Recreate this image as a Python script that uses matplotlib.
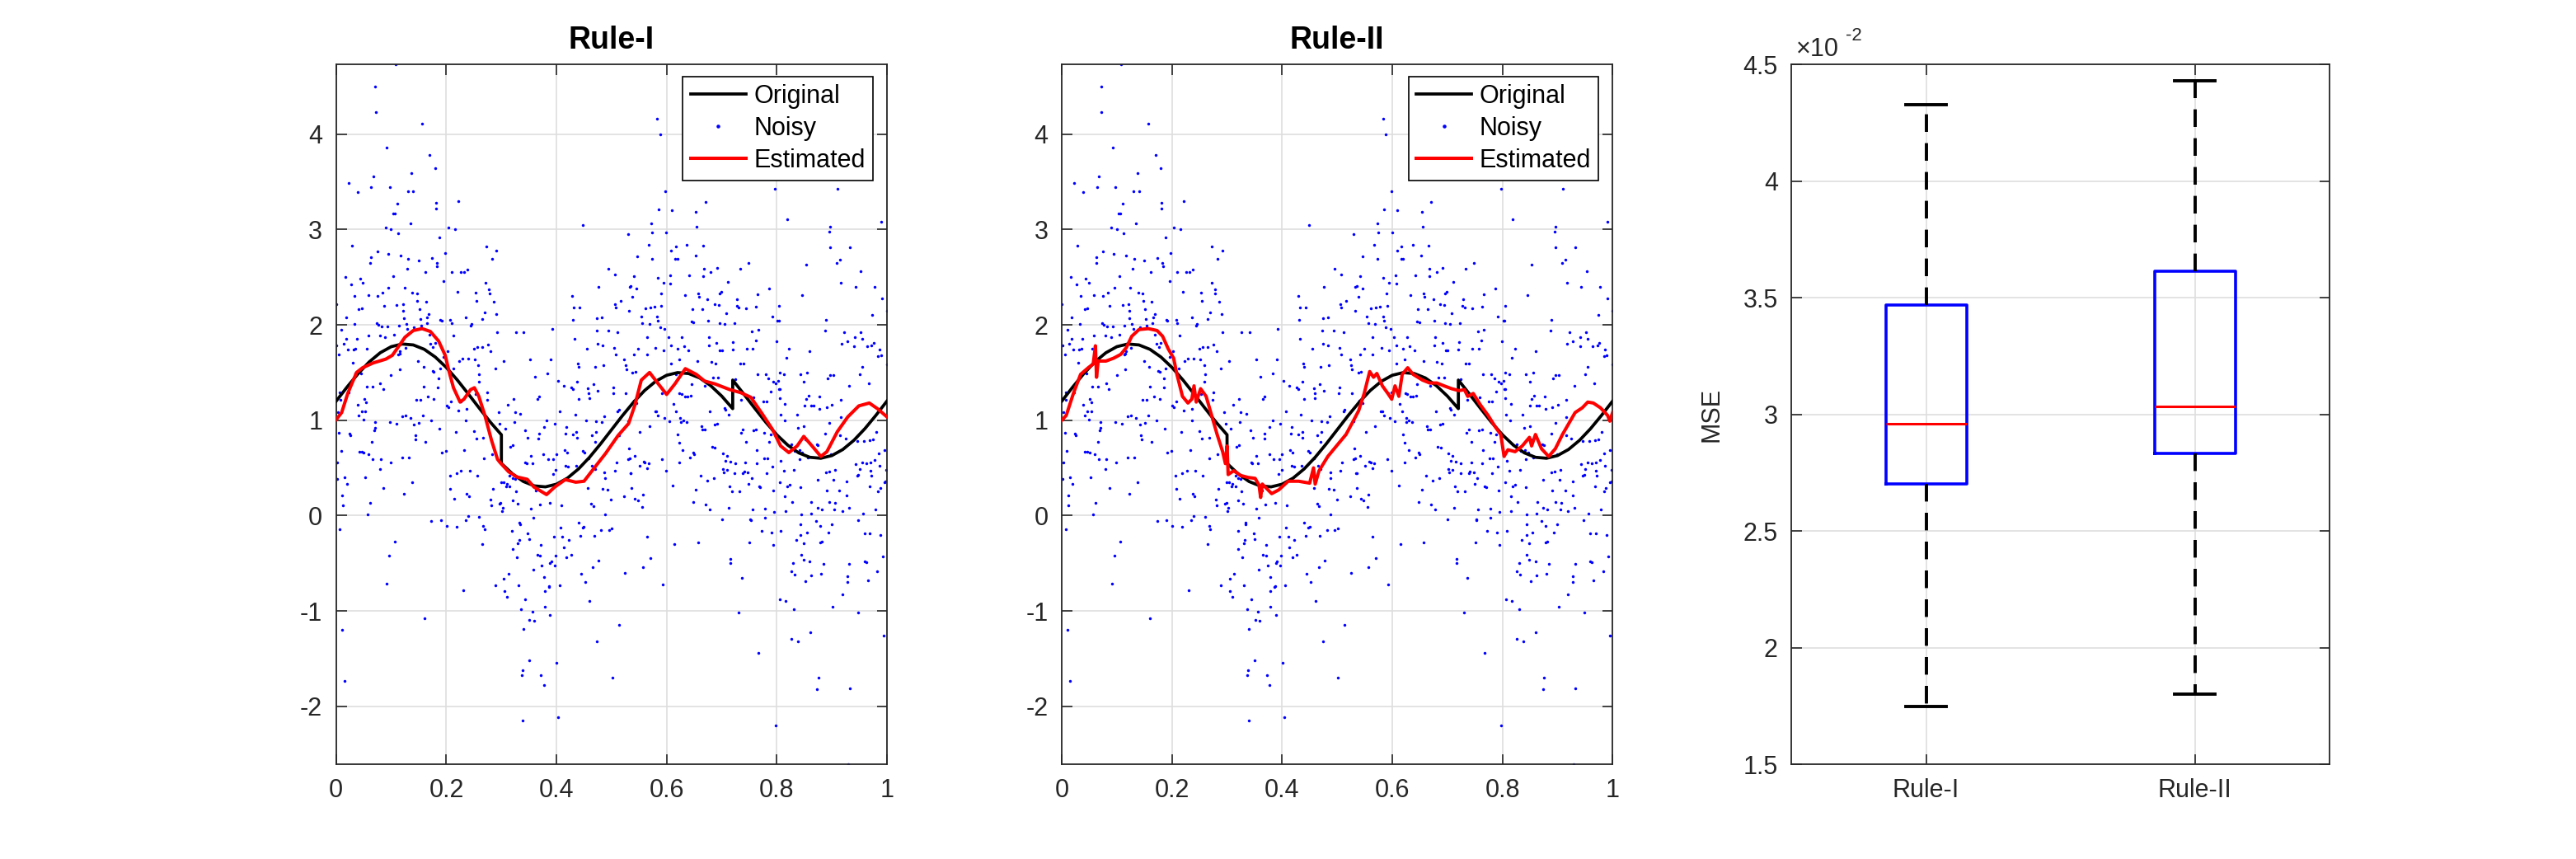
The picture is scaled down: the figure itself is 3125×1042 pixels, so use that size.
import numpy as np
import matplotlib
matplotlib.use("Agg")
import matplotlib.pyplot as plt
from matplotlib.ticker import FixedLocator, FuncFormatter

plt.rcParams['font.family'] = ['Liberation Sans', 'DejaVu Sans']
plt.rcParams['axes.unicode_minus'] = False

# ---------------- data ----------------
orig_x = [0.00, 0.02, 0.04, 0.06, 0.08, 0.10, 0.12, 0.14, 0.16, 0.18, 0.20, 0.22, 0.24, 0.26, 0.28, 0.30,
          0.30, 0.32, 0.34, 0.36, 0.38, 0.40, 0.42, 0.44, 0.46, 0.48, 0.50, 0.52, 0.54, 0.56, 0.58, 0.60,
          0.62, 0.64, 0.66, 0.68, 0.70, 0.72,
          0.72, 0.74, 0.76, 0.78, 0.80, 0.82, 0.84, 0.86, 0.88, 0.90, 0.92, 0.94, 0.96, 0.98, 1.00]
orig_y = [1.200, 1.349, 1.489, 1.611, 1.707, 1.771, 1.799, 1.789, 1.743, 1.662, 1.553, 1.421, 1.275, 1.125, 0.979, 0.847,
          0.547, 0.438, 0.357, 0.311, 0.301, 0.329, 0.393, 0.489, 0.611, 0.751, 0.900, 1.049, 1.189, 1.311, 1.407, 1.471,
          1.499, 1.489, 1.443, 1.362, 1.253, 1.121,
          1.421, 1.275, 1.125, 0.979, 0.847, 0.738, 0.657, 0.611, 0.601, 0.629, 0.693, 0.789, 0.911, 1.051, 1.200]

est1_x = [0.000, 0.010, 0.021, 0.037, 0.048, 0.067, 0.090, 0.102, 0.113, 0.125, 0.140, 0.156, 0.171, 0.186,
          0.198, 0.205, 0.213, 0.225, 0.232, 0.244, 0.251, 0.259, 0.270, 0.282, 0.293, 0.297, 0.313, 0.328,
          0.347, 0.359, 0.382, 0.397, 0.416, 0.435, 0.450, 0.466, 0.489, 0.512, 0.531, 0.5425, 0.554, 0.569,
          0.585, 0.600, 0.615, 0.634, 0.654, 0.669, 0.688, 0.715, 0.734, 0.753, 0.772, 0.792, 0.807, 0.822,
          0.837, 0.849, 0.864, 0.880, 0.891, 0.910, 0.929, 0.949, 0.968, 0.983, 1.000]
est1_y = [1.006, 1.080, 1.280, 1.500, 1.550, 1.600, 1.640, 1.680, 1.770, 1.870, 1.940, 1.960, 1.930, 1.830,
          1.680, 1.510, 1.340, 1.190, 1.220, 1.320, 1.340, 1.250, 1.050, 0.790, 0.590, 0.560, 0.460, 0.405,
          0.380, 0.300, 0.220, 0.300, 0.377, 0.350, 0.360, 0.480, 0.650, 0.840, 0.965, 1.160, 1.420, 1.500,
          1.380, 1.270, 1.380, 1.540, 1.480, 1.410, 1.380, 1.320, 1.290, 1.240, 1.080, 0.905, 0.730, 0.660,
          0.730, 0.830, 0.730, 0.620, 0.670, 0.880, 1.035, 1.150, 1.180, 1.120, 1.035]

est2_x = [0.000, 0.008, 0.021, 0.034, 0.048, 0.057, 0.061, 0.063, 0.066, 0.080, 0.094, 0.107, 0.117, 0.127,
          0.140, 0.157, 0.173, 0.183, 0.193, 0.203, 0.209, 0.219, 0.229, 0.236, 0.240, 0.244, 0.252, 0.262,
          0.272, 0.282, 0.292, 0.297, 0.300, 0.302, 0.312, 0.325, 0.338, 0.351, 0.358, 0.361, 0.364, 0.381,
          0.394, 0.411, 0.430, 0.450, 0.457, 0.460, 0.467, 0.483, 0.503, 0.516, 0.529, 0.539, 0.549, 0.559,
          0.566, 0.572, 0.582, 0.592, 0.599, 0.605, 0.612, 0.618, 0.628, 0.638, 0.655, 0.668, 0.681, 0.694,
          0.708, 0.721, 0.731, 0.737, 0.747, 0.760, 0.774, 0.787, 0.797, 0.803, 0.810, 0.823, 0.836, 0.849,
          0.853, 0.860, 0.871, 0.884, 0.896, 0.909, 0.923, 0.932, 0.945, 0.955, 0.965, 0.978, 0.991, 0.995, 1.000]
est2_y = [1.000, 1.050, 1.280, 1.480, 1.550, 1.590, 1.780, 1.450, 1.620, 1.620, 1.650, 1.690, 1.760, 1.880,
          1.950, 1.960, 1.940, 1.880, 1.750, 1.650, 1.480, 1.250, 1.180, 1.220, 1.360, 1.190, 1.330, 1.250,
          1.050, 0.850, 0.670, 0.545, 0.730, 0.430, 0.470, 0.420, 0.400, 0.390, 0.320, 0.190, 0.330, 0.230,
          0.270, 0.360, 0.360, 0.340, 0.500, 0.330, 0.470, 0.620, 0.760, 0.850, 0.990, 1.100, 1.280, 1.510,
          1.450, 1.490, 1.360, 1.280, 1.220, 1.360, 1.250, 1.480, 1.550, 1.480, 1.420, 1.390, 1.390, 1.360,
          1.330, 1.310, 1.320, 1.250, 1.280, 1.160, 1.050, 0.930, 0.850, 0.620, 0.690, 0.670, 0.730, 0.820,
          0.730, 0.850, 0.700, 0.620, 0.700, 0.850, 0.990, 1.080, 1.130, 1.190, 1.180, 1.130, 1.050, 0.990, 1.080]

noisy_pts = [
    # x in [0, 0.26]
    (0.1075, 4.73), (0.071, 4.50), (0.072, 4.23), (0.1565, 4.11), (0.092, 3.86), (0.170, 3.78), (0.180, 3.64),
    (0.137, 3.59), (0.0675, 3.56), (0.0225, 3.49), (0.097, 3.44), (0.0635, 3.44), (0.039, 3.39), (0.1305, 3.40),
    (0.140, 3.40), (0.222, 3.30), (0.181, 3.28), (0.111, 3.27), (0.1815, 3.22), (0.1035, 3.17), (0.1065, 3.17),
    (0.135, 3.06), (0.090, 3.02), (0.0995, 3.00), (0.204, 3.02), (0.2155, 3.00), (0.1125, 2.96), (0.188, 2.92),
    (0.0285, 2.83), (0.0745, 2.77), (0.094, 2.74), (0.1165, 2.73), (0.0625, 2.71), (0.131, 2.69), (0.1495, 2.67),
    (0.174, 2.70), (0.062, 2.65), (0.183, 2.65), (0.1835, 2.61), (0.1975, 2.75), (0.1285, 2.59), (0.1615, 2.55),
    (0.210, 2.55), (0.226, 2.55), (0.232, 2.55), (0.2385, 2.58), (0.017, 2.50), (0.104, 2.51), (0.043, 2.48),
    (0.1955, 2.46), (0.0485, 2.44), (0.027, 2.42), (0.1245, 2.39), (0.095, 2.39), (0.220, 2.35), (0.1385, 2.34),
    (0.1465, 2.33), (0.084, 2.34), (0.0335, 2.30), (0.058, 2.31), (0.075, 2.30), (0.2535, 2.34), (0.1475, 2.25),
    (0.1635, 2.24), (0.254, 2.25), (0.000, 2.22), (0.110, 2.21), (0.1215, 2.22), (0.087, 2.20), (0.041, 2.16),
    (0.046, 2.17), (0.122, 2.15), (0.1515, 2.16), (0.1685, 2.11), (0.0185, 2.08), (0.1655, 2.08), (0.1525, 2.06),
    (0.236, 2.08), (0.123, 2.07), (0.2075, 2.05), (0.1895, 2.05), (0.192, 2.04), (0.0735, 2.02), (0.210, 2.02),
    (0.0325, 2.01), (0.127, 2.01), (0.2455, 2.01), (0.0765, 2.00), (0.1135, 1.99), (0.1645, 2.02), (0.2435, 1.99),
    (0.082, 1.98), (0.093, 1.98), (0.010, 1.95), (0.1415, 1.97), (0.1295, 1.96), (0.1545, 1.99), (0.2135, 1.89),
    (0.0585, 1.89), (0.079, 1.89), (0.089, 1.87), (0.1045, 1.90), (0.1695, 1.90), (0.0185, 1.85), (0.037, 1.85),
    (0.0135, 1.80), (0.1715, 1.80), (0.176, 1.77), (0.001, 1.78), (0.0215, 1.74), (0.0315, 1.74), (0.035, 1.75),
    (0.055, 1.75), (0.1255, 1.76), (0.256, 1.77), (0.250, 1.75), (0.202, 1.72), (0.0055, 1.69), (0.113, 1.69),
    (0.115, 1.70), (0.116, 1.72), (0.180, 1.81), (0.030, 1.60), (0.2235, 1.62), (0.229, 1.65), (0.2395, 1.65),
    (0.252, 1.64), (0.258, 1.58), (0.149, 1.62), (0.1955, 1.66), (0.1155, 1.53), (0.1585, 1.56), (0.1755, 1.52),
    (0.1775, 1.51), (0.1885, 1.54), (0.2125, 1.54), (0.034, 1.49), (0.045, 1.49), (0.0995, 1.47), (0.2595, 1.48),
    (0.1855, 1.44), (0.080, 1.39), (0.2585, 1.40), (0.085, 1.33), (0.0555, 1.35), (0.0655, 1.35), (0.1595, 1.35),
    (0.185, 1.34), (0.007, 1.29), (0.022, 1.29), (0.253, 1.27), (0.1775, 1.22), (0.051, 1.22), (0.146, 1.21),
    (0.1535, 1.21), (0.008, 1.21), (0.227, 1.20), (0.208, 1.20), (0.167, 1.25), (0.039, 1.16), (0.054, 1.19),
    (0.201, 1.15), (0.2035, 1.14), (0.2215, 1.10), (0.2365, 1.12), (0.0465, 1.09), (0.053, 1.09), (0.0035, 1.08),
    (0.157, 1.05), (0.120, 1.04), (0.126, 1.05), (0.041, 1.05), (0.049, 1.01), (0.1725, 1.00), (0.0975, 0.98),
    (0.109, 0.96), (0.1345, 1.02), (0.1505, 0.97), (0.1415, 0.95), (0.0705, 0.98), (0.070, 0.92), (0.069, 0.89),
    (0.187, 0.91), (0.217, 0.88), (0.236, 0.995), (0.250, 0.885), (0.0055, 0.87), (0.0235, 0.86), (0.025, 0.84),
    (0.1435, 0.84), (0.1445, 0.80), (0.255, 0.81), (0.065, 0.77), (0.1625, 0.77), (0.0095, 0.68), (0.0415, 0.67),
    (0.046, 0.67), (0.050, 0.66), (0.1915, 0.66), (0.1995, 0.68), (0.233, 0.69), (0.120, 0.61), (0.132, 0.61),
    (0.059, 0.64), (0.0665, 0.59), (0.081, 0.59), (0.0025, 0.56), (0.0985, 0.555), (0.0795, 0.49), (0.227, 0.47),
    (0.2425, 0.47), (0.2065, 0.42), (0.2185, 0.445), (0.2565, 0.42), (0.052, 0.40), (0.0015, 0.38), (0.0155, 0.40),
    (0.0195, 0.33), (0.138, 0.35), (0.086, 0.29), (0.2075, 0.28), (0.2375, 0.23), (0.123, 0.23), (0.0115, 0.21),
    (0.214, 0.18), (0.2415, 0.20), (0.061, 0.13), (0.0125, 0.105), (0.0565, 0.01), (0.2395, -0.005), (0.2595, -0.01),
    (0.007, -0.14), (0.173, -0.06), (0.1905, -0.05), (0.2005, -0.105), (0.219, -0.12), (0.235, -0.05),
    (0.1065, -0.27), (0.096, -0.42), (0.091, -0.71), (0.231, -0.78), (0.1605, -1.08), (0.011, -1.20), (0.0145, -1.73),
    # x in [0.26, 0.53]
    (0.4484, 3.05), (0.530, 2.95), (0.2728, 2.82), (0.2912, 2.78), (0.2828, 2.69), (0.4948, 2.59), (0.5068, 2.53),
    (0.2718, 2.44), (0.4758, 2.40), (0.2778, 2.37), (0.2788, 2.33), (0.4289, 2.30), (0.533, 2.40), (0.2863, 2.24),
    (0.5063, 2.22), (0.5168, 2.25), (0.5078, 2.18), (0.4319, 2.18), (0.4424, 2.18), (0.532, 2.15), (0.2693, 2.13),
    (0.2902, 2.11), (0.4738, 2.07), (0.4828, 2.08), (0.4304, 2.05), (0.2648, 2.06), (0.3925, 1.96), (0.4728, 1.94),
    (0.4943, 1.94), (0.5112, 1.92), (0.2922, 1.92), (0.3262, 1.92), (0.3407, 1.92), (0.4324, 1.85), (0.4743, 1.80),
    (0.4838, 1.78), (0.2648, 1.77), (0.2758, 1.79), (0.4549, 1.75), (0.5047, 1.76), (0.2808, 1.72), (0.5073, 1.69),
    (0.3526, 1.64), (0.3900, 1.64), (0.3037, 1.62), (0.5233, 1.64), (0.4853, 1.58), (0.4389, 1.59), (0.5257, 1.58),
    (0.5272, 1.53), (0.2887, 1.54), (0.3831, 1.49), (0.4703, 1.555), (0.4404, 1.555), (0.3606, 1.455), (0.4025, 1.41),
    (0.4369, 1.40), (0.4130, 1.36), (0.4264, 1.34), (0.4294, 1.33), (0.4679, 1.38), (0.4574, 1.335), (0.4753, 1.31),
    (0.5038, 1.34), (0.5033, 1.28), (0.3686, 1.25), (0.3656, 1.22), (0.4399, 1.22), (0.4589, 1.28), (0.4599, 1.23),
    (0.2748, 1.29), (0.2738, 1.215), (0.5262, 1.28), (0.3216, 1.22), (0.3112, 1.16), (0.3252, 1.08), (0.3347, 1.07),
    (0.4065, 1.09), (0.4344, 1.06), (0.5138, 1.11), (0.5113, 1.09), (0.4863, 1.04), (0.2947, 1.08), (0.3826, 1.00),
    (0.4534, 1.00), (0.4718, 0.99), (0.4818, 0.98), (0.5297, 0.99), (0.3237, 0.98), (0.2972, 0.96), (0.2663, 1.09),
    (0.3964, 0.96), (0.4175, 0.93), (0.3771, 0.93), (0.3072, 0.91), (0.3432, 0.89), (0.4364, 0.875), (0.4369, 0.82),
    (0.4165, 0.86), (0.4299, 0.85), (0.3477, 0.82), (0.3681, 0.86), (0.3676, 0.81), (0.4638, 0.84), (0.4703, 0.77),
    (0.4713, 0.875), (0.5133, 0.84), (0.2673, 0.82), (0.3167, 0.72), (0.3212, 0.74), (0.4150, 0.69), (0.4195, 0.66),
    (0.4479, 0.68), (0.4504, 0.66), (0.2683, 0.60), (0.2833, 0.64), (0.3536, 0.63), (0.3766, 0.64), (0.3846, 0.59),
    (0.3437, 0.56), (0.3457, 0.545), (0.3561, 0.55), (0.3945, 0.59), (0.3999, 0.64), (0.4584, 0.60), (0.5297, 0.59),
    (0.5317, 0.70), (0.4170, 0.52), (0.4215, 0.51), (0.4360, 0.52), (0.4649, 0.52), (0.5093, 0.555), (0.5342, 0.445),
    (0.3990, 0.48), (0.3935, 0.435), (0.4703, 0.49), (0.4873, 0.45), (0.5062, 0.47), (0.3152, 0.42), (0.3202, 0.39),
    (0.3251, 0.38), (0.4883, 0.39), (0.4574, 0.29), (0.4843, 0.28), (0.4933, 0.27), (0.4993, 0.17), (0.5232, 0.20),
    (0.2992, 0.345), (0.3042, 0.345), (0.3082, 0.31), (0.3152, 0.31), (0.3097, 0.335), (0.3631, 0.26), (0.2848, 0.28),
    (0.3267, 0.25), (0.3696, 0.115), (0.3876, 0.13), (0.4085, 0.11), (0.2798, 0.17), (0.2813, 0.11), (0.2962, 0.125),
    (0.2987, 0.13), (0.3022, 0.077), (0.3012, 0.05), (0.3207, 0.16), (0.3296, 0.125), (0.4634, 0.125), (0.4674, 0.10),
    (0.3531, 0.07), (0.4878, 0.01), (0.2673, -0.105), (0.2693, -0.14), (0.2653, -0.30), (0.3332, -0.07),
    (0.3342, -0.095), (0.4399, -0.07), (0.4474, -0.13), (0.4499, -0.115), (0.3576, -0.02), (0.3197, -0.16),
    (0.3481, -0.19), (0.3501, -0.25), (0.3327, -0.26), (0.3302, -0.29), (0.3950, -0.225), (0.4070, -0.125),
    (0.4110, -0.225), (0.4130, -0.33), (0.4225, -0.26), (0.4429, -0.215), (0.4683, -0.215), (0.4813, -0.155),
    (0.4958, -0.15), (0.5008, -0.135), (0.3711, -0.31), (0.3207, -0.35), (0.3651, -0.41), (0.3706, -0.42),
    (0.3277, -0.44), (0.4185, -0.435), (0.4264, -0.415), (0.3980, -0.42), (0.3885, -0.50), (0.3910, -0.48),
    (0.3736, -0.52), (0.3576, -0.57), (0.3127, -0.61), (0.3047, -0.66), (0.3057, -0.79), (0.3097, -0.85),
    (0.2888, -0.73), (0.3312, -0.73), (0.3437, -0.875), (0.3781, -0.645), (0.3860, -0.75), (0.3870, -0.74),
    (0.3791, -0.79), (0.4055, -0.73), (0.3970, -0.525), (0.4449, -0.61), (0.4519, -0.70), (0.4664, -0.54),
    (0.4768, -0.47), (0.5247, -0.60), (0.4604, -0.895), (0.3791, -0.96), (0.3885, -1.04), (0.3362, -0.98),
    (0.3567, -1.005), (0.3512, -1.09), (0.3596, -1.10), (0.3402, -1.19), (0.5133, -1.15), (0.4738, -1.32),
    (0.3501, -1.52), (0.3382, -1.62), (0.3372, -1.67), (0.4005, -1.545), (0.3720, -1.675), (0.3776, -1.775),
    (0.5013, -1.70), (0.3392, -2.15), (0.4035, -2.11),
    # x in [0.53, 0.80]
    (0.6377, 4.38), (0.5829, 4.16), (0.5879, 4.00), (0.5980, 3.40), (0.6709, 3.29), (0.5854, 3.21), (0.6095, 3.20),
    (0.6533, 3.18), (0.7970, 3.43), (0.5724, 3.06), (0.6548, 3.03), (0.5739, 2.97), (0.5995, 2.97), (0.5668, 2.84),
    (0.6171, 2.82), (0.6367, 2.84), (0.6658, 2.83), (0.6085, 2.78), (0.6161, 2.69), (0.6196, 2.69), (0.5734, 2.69),
    (0.6522, 2.73), (0.5462, 2.72), (0.7482, 2.65), (0.7337, 2.59), (0.6673, 2.59), (0.6915, 2.60), (0.6804, 2.55),
    (0.6412, 2.52), (0.6060, 2.52), (0.5839, 2.49), (0.5412, 2.51), (0.6668, 2.51), (0.5945, 2.44), (0.6070, 2.43),
    (0.7111, 2.45), (0.5352, 2.41), (0.5457, 2.38), (0.5899, 2.33), (0.6332, 2.31), (0.6568, 2.325), (0.6588, 2.29),
    (0.6960, 2.33), (0.6990, 2.345), (0.5382, 2.29), (0.7658, 2.32), (0.7864, 2.38), (0.6744, 2.27), (0.6869, 2.22),
    (0.6950, 2.21), (0.7281, 2.27), (0.7276, 2.20), (0.7311, 2.18), (0.7447, 2.17), (0.7628, 2.19), (0.5905, 2.20),
    (0.5704, 2.18), (0.5618, 2.17), (0.5774, 2.19), (0.6462, 2.16), (0.6643, 2.16), (0.7076, 2.12), (0.5543, 2.09),
    (0.5829, 2.09), (0.7915, 2.09), (0.8015, 2.04), (0.5563, 2.02), (0.5693, 2.01), (0.5844, 2.04), (0.6487, 2.03),
    (0.6450, 2.035), (0.6759, 2.04), (0.7046, 2.01), (0.6960, 2.015), (0.7226, 2.015), (0.5879, 1.97), (0.5965, 1.96),
    (0.7553, 1.93), (0.7663, 1.95), (0.6030, 1.87), (0.6276, 1.87), (0.5638, 1.87), (0.7206, 1.82), (0.6774, 1.87),
    (0.7995, 1.83), (0.7623, 1.84), (0.6080, 1.785), (0.6196, 1.75), (0.6316, 1.775), (0.6764, 1.78), (0.6910, 1.81),
    (0.6970, 1.73), (0.7010, 1.73), (0.7196, 1.74), (0.7452, 1.75), (0.7568, 1.75), (0.5487, 1.75), (0.5799, 1.76),
    (0.5945, 1.73), (0.6397, 1.73), (0.5648, 1.69), (0.5412, 1.685), (0.6226, 1.64), (0.6809, 1.61), (0.6894, 1.59),
    (0.6563, 1.62), (0.6075, 1.59), (0.7337, 1.59), (0.7392, 1.59), (0.5382, 1.50), (0.5437, 1.51), (0.6166, 1.48),
    (0.6839, 1.45), (0.6940, 1.45), (0.7241, 1.43), (0.7648, 1.48), (0.7794, 1.48), (0.7849, 1.435), (0.7935, 1.40),
    (0.7980, 1.39), (0.6452, 1.38), (0.6689, 1.36), (0.6236, 1.28), (0.6276, 1.27), (0.6332, 1.25), (0.6377, 1.25),
    (0.6432, 1.26), (0.5990, 1.29), (0.5920, 1.28), (0.7357, 1.21), (0.7583, 1.24), (0.7749, 1.20), (0.7814, 1.20),
    (0.7884, 1.30), (0.8040, 1.325), (0.5407, 1.205), (0.5457, 1.18), (0.6131, 1.17), (0.5794, 1.09), (0.5814, 1.09),
    (0.6176, 1.095), (0.6789, 1.09), (0.7050, 1.125), (0.7070, 1.11), (0.7126, 1.06), (0.5844, 1.05), (0.5960, 1.02),
    (0.6050, 0.99), (0.6251, 1.02), (0.6261, 0.98), (0.6362, 0.98), (0.6297, 1.00), (0.5684, 0.94), (0.5518, 0.875),
    (0.6628, 0.94), (0.6648, 0.90), (0.6689, 0.90), (0.6874, 0.95), (0.6915, 0.96), (0.7347, 0.87), (0.7387, 0.90),
    (0.7578, 0.895), (0.7628, 0.90), (0.7774, 0.87), (0.7889, 0.85), (0.7442, 0.775), (0.7854, 0.775), (0.6201, 0.85),
    (0.6231, 0.765), (0.6829, 0.72), (0.6879, 0.71), (0.7643, 0.69), (0.6296, 0.69), (0.6482, 0.66), (0.6497, 0.645),
    (0.7025, 0.655), (0.7095, 0.63), (0.5909, 0.59), (0.6417, 0.61), (0.7769, 0.60), (0.7829, 0.60), (0.5332, 0.60),
    (0.5422, 0.63), (0.5608, 0.555), (0.5583, 0.565), (0.5668, 0.55), (0.5513, 0.52), (0.5638, 0.50), (0.6231, 0.555),
    (0.5990, 0.47), (0.7060, 0.57), (0.7156, 0.565), (0.7246, 0.55), (0.7432, 0.56), (0.7638, 0.55), (0.7920, 0.51),
    (0.7015, 0.49), (0.7040, 0.455), (0.7095, 0.48), (0.7236, 0.445), (0.7387, 0.44), (0.7412, 0.46), (0.7477, 0.45),
    (0.6618, 0.42), (0.6739, 0.37), (0.6854, 0.39), (0.7548, 0.39), (0.7814, 0.44), (0.5352, 0.445), (0.6116, 0.315),
    (0.7136, 0.31), (0.7186, 0.25), (0.7317, 0.25), (0.7492, 0.335), (0.7683, 0.31), (0.7703, 0.30), (0.7930, 0.26),
    (0.5362, 0.29), (0.6533, 0.27), (0.5427, 0.18), (0.5482, 0.155), (0.5553, 0.09), (0.5573, 0.22), (0.6477, 0.145),
    (0.6704, 0.115), (0.6784, 0.06), (0.7126, 0.077), (0.7558, 0.06), (0.7779, 0.07), (0.7945, 0.035), (0.7523, -0.04),
    (0.7533, -0.05), (0.7784, -0.02), (0.7005, -0.04), (0.7719, -0.16), (0.7900, -0.18), (0.7940, -0.31),
    (0.7508, -0.28), (0.5648, -0.225), (0.6146, -0.30), (0.6568, -0.28), (0.5704, -0.45), (0.5573, -0.54),
    (0.7161, -0.455), (0.7161, -0.50), (0.7362, -0.655), (0.5925, -0.72), (0.7302, -1.02), (0.7673, -1.44),
    (0.7980, -2.20),
    # x in [0.80, 1.00]
    (0.9102, 3.43), (0.8184, 3.105), (0.9900, 3.08), (0.8967, 3.03), (0.8952, 2.98), (0.8967, 2.81), (0.9326, 2.81),
    (0.9146, 2.68), (0.9087, 2.65), (0.8533, 2.63), (0.9526, 2.56), (0.9166, 2.445), (0.9431, 2.40), (0.9775, 2.40),
    (0.8458, 2.31), (0.9905, 2.28), (0.8044, 2.20), (1.0000, 2.15), (0.9735, 2.10), (0.8887, 2.05), (0.8039, 2.04),
    (0.8872, 1.94), (0.9216, 1.92), (0.9411, 1.87), (0.9516, 1.92), (0.9551, 1.85), (0.9276, 1.83), (0.9176, 1.80),
    (0.9635, 1.775), (0.9406, 1.775), (0.9720, 1.785), (0.9760, 1.81), (0.8224, 1.75), (0.8598, 1.72), (0.9865, 1.74),
    (0.9895, 1.68), (0.9840, 1.67), (0.8169, 1.655), (0.9995, 1.585), (0.8054, 1.50), (0.8124, 1.48), (0.8423, 1.48),
    (0.8553, 1.50), (0.8962, 1.47), (0.9022, 1.47), (0.8922, 1.44), (0.9506, 1.48), (0.9550, 1.555), (0.8493, 1.40),
    (0.9306, 1.36), (0.9665, 1.39), (0.8020, 1.41), (0.8049, 1.325), (0.8573, 1.26), (0.8533, 1.22), (0.8767, 1.25),
    (0.8618, 1.15), (0.8663, 1.15), (0.8149, 1.17), (0.8054, 1.23), (0.8503, 1.15), (0.8777, 1.12), (0.8902, 1.14),
    (0.9002, 1.16), (0.9161, 1.21), (0.8064, 1.06), (0.8364, 1.06), (0.9156, 1.03), (0.8144, 1.00), (0.8957, 0.97),
    (0.8388, 0.92), (0.8493, 0.94), (0.9805, 0.88), (0.8882, 0.86), (0.9151, 0.84), (0.9246, 0.81), (0.8513, 0.80),
    (0.8723, 0.75), (0.8748, 0.74), (0.9461, 0.78), (0.9581, 0.785), (0.9681, 0.79), (0.9745, 0.80), (0.8264, 0.75),
    (0.8329, 0.68), (0.8408, 0.69), (0.8463, 0.66), (0.9950, 0.69), (0.9845, 0.655), (0.8563, 0.61), (0.8987, 0.645),
    (0.8074, 0.57), (0.8418, 0.59), (0.9621, 0.55), (0.9770, 0.58), (0.9546, 0.56), (0.9431, 0.54), (0.9500, 0.49),
    (0.9700, 0.56), (0.9865, 0.525), (0.9980, 0.48), (0.8129, 0.47), (0.8314, 0.48), (0.8887, 0.455), (0.8952, 0.46),
    (0.9057, 0.48), (0.9695, 0.47), (0.9715, 0.42), (0.9456, 0.42), (0.9481, 0.43), (0.9955, 0.345), (0.9975, 0.36),
    (0.8743, 0.375), (0.9032, 0.375), (0.9271, 0.36), (0.8054, 0.345), (0.8184, 0.31), (0.8234, 0.325), (0.8428, 0.30),
    (0.9680, 0.305), (0.9875, 0.29), (0.9840, 0.255), (0.8902, 0.26), (0.9136, 0.26), (0.8149, 0.20), (0.8279, 0.14),
    (0.8628, 0.145), (0.8738, 0.077), (0.8817, 0.06), (0.8957, 0.14), (0.9062, 0.135), (0.9047, 0.06), (0.9186, 0.045),
    (0.9306, 0.085), (0.9271, 0.215), (0.9785, 0.067), (0.8154, 0.043), (0.8443, 0.015), (0.8618, 0.025), (0.9560, 0.02),
    (0.8074, -0.16), (0.8433, -0.095), (0.8713, -0.06), (0.8788, -0.11), (0.8997, -0.09), (0.9476, -0.045),
    (0.8937, -0.18), (0.8543, -0.18), (0.8433, -0.20), (0.9596, -0.19), (0.9690, -0.19), (0.9885, -0.20),
    (0.8348, -0.26), (0.8483, -0.29), (0.8783, -0.28), (0.8813, -0.27), (0.8443, -0.41), (0.8483, -0.46),
    (0.8598, -0.48), (0.8299, -0.50), (0.8259, -0.58), (0.8324, -0.62), (0.8623, -0.63), (0.8518, -0.69),
    (0.8803, -0.61), (0.8847, -0.51), (0.9316, -0.51), (0.9276, -0.64), (0.9281, -0.70), (0.9595, -0.48),
    (0.9625, -0.49), (0.9655, -0.68), (0.9825, -0.58), (0.9925, -0.43), (0.9017, -0.96), (0.9191, -0.83),
    (0.9481, -1.02), (0.8164, -0.895), (0.8059, -0.875), (0.8309, -0.985), (0.8608, -1.225), (0.8259, -1.29),
    (0.8379, -1.32), (0.8757, -1.70), (0.8732, -1.82), (0.9321, -1.81), (0.9945, -1.26), (0.9291, -2.61),
]

box_labels = ['Rule-I', 'Rule-II']
box_low = [0.01750, 0.01800]
box_q1 = [0.02703, 0.02833]
box_med = [0.02959, 0.03034]
box_q3 = [0.03468, 0.03613]
box_high = [0.04327, 0.04430]

titles = ['Rule-I', 'Rule-II']
estimates = [(est1_x, est1_y), (est2_x, est2_y)]

# ---------------- style ----------------
AX_COL = '#262626'
GRID_COL = '#dedede'
FS = 22

fig = plt.figure(figsize=(31.25, 10.42), dpi=100)

noisy = np.array(noisy_pts)
nx, ny = noisy[:, 0], noisy[:, 1]

def style_axes(ax):
    for s in ax.spines.values():
        s.set_color(AX_COL)
        s.set_linewidth(1.3)
    ax.tick_params(direction='in', length=9, width=1.2, colors=AX_COL,
                   labelsize=FS, top=True, right=True, pad=12)
    ax.grid(True, color=GRID_COL, linewidth=1.2)
    ax.set_axisbelow(True)

lefts = [0.1305, 0.4122]
for i in range(2):
    ax = fig.add_axes([lefts[i], 0.11, 0.2138, 0.815])
    style_axes(ax)
    ax.plot(orig_x, orig_y, color='black', lw=2.7, label='Original', zorder=3)
    ax.plot(nx, ny, linestyle='none', marker='o', ms=2.5, mew=0, color='blue', label='Noisy', zorder=2)
    ex, ey = estimates[i]
    ax.plot(ex, ey, color='red', lw=2.9, label='Estimated', zorder=4)
    ax.set_xlim(0, 1)
    ax.set_ylim(ny.min(), ny.max())
    ax.set_xticks([0, 0.2, 0.4, 0.6, 0.8, 1])
    ax.set_xticklabels(['0', '0.2', '0.4', '0.6', '0.8', '1'])
    ax.set_yticks([-2, -1, 0, 1, 2, 3, 4])
    ax.set_yticklabels(['-2', '-1', '0', '1', '2', '3', '4'])
    ax.set_title(titles[i], fontsize=27, fontweight='bold', color='black', pad=14)
    leg = ax.legend(loc='upper right', bbox_to_anchor=(0.974, 0.983), borderaxespad=0,
                    fontsize=FS, fancybox=False, framealpha=1, edgecolor='black',
                    handlelength=2.2, handletextpad=0.3, borderpad=0.3, labelspacing=0.3,
                    markerscale=1.3)
    leg.get_frame().set_linewidth(1.2)
    leg.set_zorder(10)

# box plot
ax3 = fig.add_axes([0.6955, 0.11, 0.2088, 0.815])
style_axes(ax3)
stats = []
for k in range(2):
    stats.append(dict(label=box_labels[k], whislo=box_low[k], q1=box_q1[k], med=box_med[k],
                      q3=box_q3[k], whishi=box_high[k], fliers=[]))
ax3.bxp(stats, positions=[1, 2], widths=0.3, capwidths=0.15, showfliers=False,
        boxprops=dict(color='blue', lw=2.6),
        medianprops=dict(color='red', lw=2.2),
        whiskerprops=dict(color='black', lw=2.8, linestyle=(0, (5.5, 3.5))),
        capprops=dict(color='black', lw=2.8))
ax3.set_xlim(0.5, 2.5)
ax3.set_ylim(0.015, 0.045)
ax3.set_xticks([1, 2])
ax3.set_xticklabels(box_labels)
ax3.yaxis.set_major_locator(FixedLocator([0.015, 0.02, 0.025, 0.03, 0.035, 0.04, 0.045]))
ax3.yaxis.set_major_formatter(FuncFormatter(lambda v, p: ('%g' % round(v * 100, 2))))
ax3.set_ylabel('MSE', fontsize=FS, color=AX_COL)
ax3.yaxis.set_label_coords(-0.125, 0.5)
ax3.text(0.008, 1.004, '\u00d710', transform=ax3.transAxes, fontsize=FS, color=AX_COL,
         ha='left', va='bottom')
ax3.text(0.1, 1.028, '-2', transform=ax3.transAxes, fontsize=16, color=AX_COL,
         ha='left', va='bottom')

fig.savefig('out.png', dpi=100, facecolor='white')
